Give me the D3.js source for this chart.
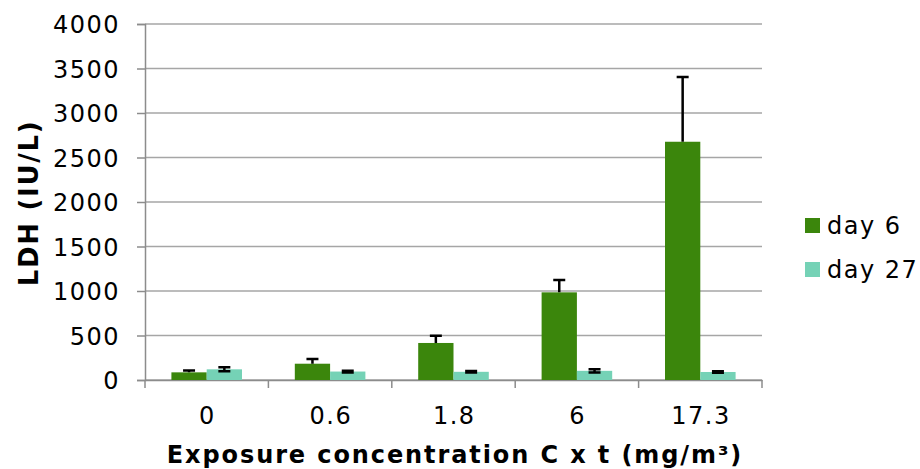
<!DOCTYPE html>
<html>
<head>
<meta charset="utf-8">
<script src="https://cdn.jsdelivr.net/npm/d3@7"></script>
<style>
  body { margin: 0; background: #fff; }
  text { font-family: "DejaVu Sans", Verdana, sans-serif; fill: #000; }
</style>
</head>
<body>
<script>
// data
var categories = ["0", "0.6", "1.8", "6", "17.3"];
var seriesNames = ["day 6", "day 27"];
var day6 = [86, 183, 416, 985, 2677];
var day6Err = [22, 53, 82, 140, 727];
var day27 = [120, 95, 92, 103, 90];
var day27Err = [22, 10, 8, 18, 8];
var yTicks = [0, 500, 1000, 1500, 2000, 2500, 3000, 3500, 4000];

var colors = ["#3b860c", "#75d2b6"];

var width = 920;
var height = 469;
var padding = {top: 24, right: 158, bottom: 89, left: 145};

var svg = d3.select("body")
            .append("svg")
            .attr("width", width)
            .attr("height", height);

var x = d3.scaleBand()
          .domain(categories)
          .range([padding.left, width - padding.right])
          .paddingInner(0.428)
          .paddingOuter(0.214);

var xSub = d3.scaleBand()
             .domain(seriesNames)
             .range([0, x.bandwidth()]);

var y = d3.scaleLinear()
          .domain([0, 4000])
          .range([height - padding.bottom, padding.top]);

// gridlines
svg.selectAll(".grid")
   .data(yTicks)
   .enter()
   .append("line")
   .attr("x1", padding.left)
   .attr("x2", width - padding.right)
   .attr("y1", function(d){ return y(d); })
   .attr("y2", function(d){ return y(d); })
   .attr("stroke", "#a6a6a6")
   .attr("stroke-width", 1.5);

// y axis
var yAxis = svg.append("g")
               .attr("transform", "translate(" + padding.left + ",0)")
               .call(d3.axisLeft(y).tickValues(yTicks).tickFormat(d3.format("d")).tickSize(8).tickPadding(17));
yAxis.selectAll("text")
     .style("font-size", "24px")
     .style("letter-spacing", "1.5px")
     .attr("dy", "0.36em");

// x axis, ticks between categories
var step = x.step();
var xAxis = svg.append("g")
               .attr("transform", "translate(0," + y(0) + ")")
               .call(d3.axisBottom(x).tickSize(0).tickPadding(27));
xAxis.selectAll("text")
     .style("font-size", "24px")
     .style("letter-spacing", "1.5px")
     .attr("dx", "0.75px");
xAxis.selectAll(".between")
     .data(d3.range(categories.length + 1))
     .enter()
     .append("line")
     .attr("x1", function(i){ return padding.left + i * step; })
     .attr("x2", function(i){ return padding.left + i * step; })
     .attr("y1", 0)
     .attr("y2", 8)
     .attr("stroke", "#8c8c8c")
     .attr("stroke-width", 1.5);

svg.selectAll(".domain, .tick line")
   .attr("stroke", "#8c8c8c")
   .attr("stroke-width", 1.5);

// bars
var rows = categories.map(function(c, i){
    return [
        {cat: c, s: seriesNames[0], v: day6[i], e: day6Err[i], both: false},
        {cat: c, s: seriesNames[1], v: day27[i], e: day27Err[i], both: true}
    ];
});

var groups = svg.selectAll(".grp")
                .data(rows)
                .enter()
                .append("g")
                .attr("transform", function(d){ return "translate(" + x(d[0].cat) + ",0)"; });

groups.selectAll("rect")
      .data(function(d){ return d; })
      .enter()
      .append("rect")
      .attr("x", function(d){ return xSub(d.s); })
      .attr("width", xSub.bandwidth())
      .attr("y", function(d){ return y(d.v); })
      .attr("height", function(d){ return y(0) - y(d.v); })
      .attr("fill", function(d, i){ return colors[i]; });

// error bars
var cap = 6;
groups.selectAll(".err")
      .data(function(d){ return d; })
      .enter()
      .append("path")
      .attr("fill", "none")
      .attr("stroke", "#000")
      .attr("stroke-width", 2.5)
      .attr("d", function(d){
          var cx = xSub(d.s) + xSub.bandwidth() / 2;
          var top = y(d.v + d.e);
          var bot = d.both ? y(d.v - d.e) : y(d.v);
          var p = "M" + cx + "," + bot + "V" + top + "M" + (cx - cap) + "," + top + "H" + (cx + cap);
          if (d.both) p += "M" + (cx - cap) + "," + bot + "H" + (cx + cap);
          return p;
      });

// axis titles
svg.append("text")
   .attr("x", 455)
   .attr("y", 463)
   .attr("text-anchor", "middle")
   .style("font-size", "24px")
   .style("font-weight", "bold")
   .style("letter-spacing", "1.9px")
   .text("Exposure concentration C x t (mg/m³)");

svg.append("text")
   .attr("transform", "translate(38,203) rotate(-90)")
   .attr("text-anchor", "middle")
   .style("font-size", "26px")
   .style("font-weight", "bold")
   .style("letter-spacing", "1.7px")
   .text("LDH (IU/L)");

// legend
var legend = svg.selectAll(".legend")
                .data(seriesNames)
                .enter()
                .append("g")
                .attr("transform", function(d, i){ return "translate(805," + (218 + i * 44) + ")"; });
legend.append("rect")
      .attr("width", 15)
      .attr("height", 15)
      .attr("fill", function(d, i){ return colors[i]; });
legend.append("text")
      .attr("x", 22)
      .attr("y", 16)
      .style("font-size", "24px")
      .style("letter-spacing", "1.5px")
      .text(function(d){ return d; });
</script>
</body>
</html>
